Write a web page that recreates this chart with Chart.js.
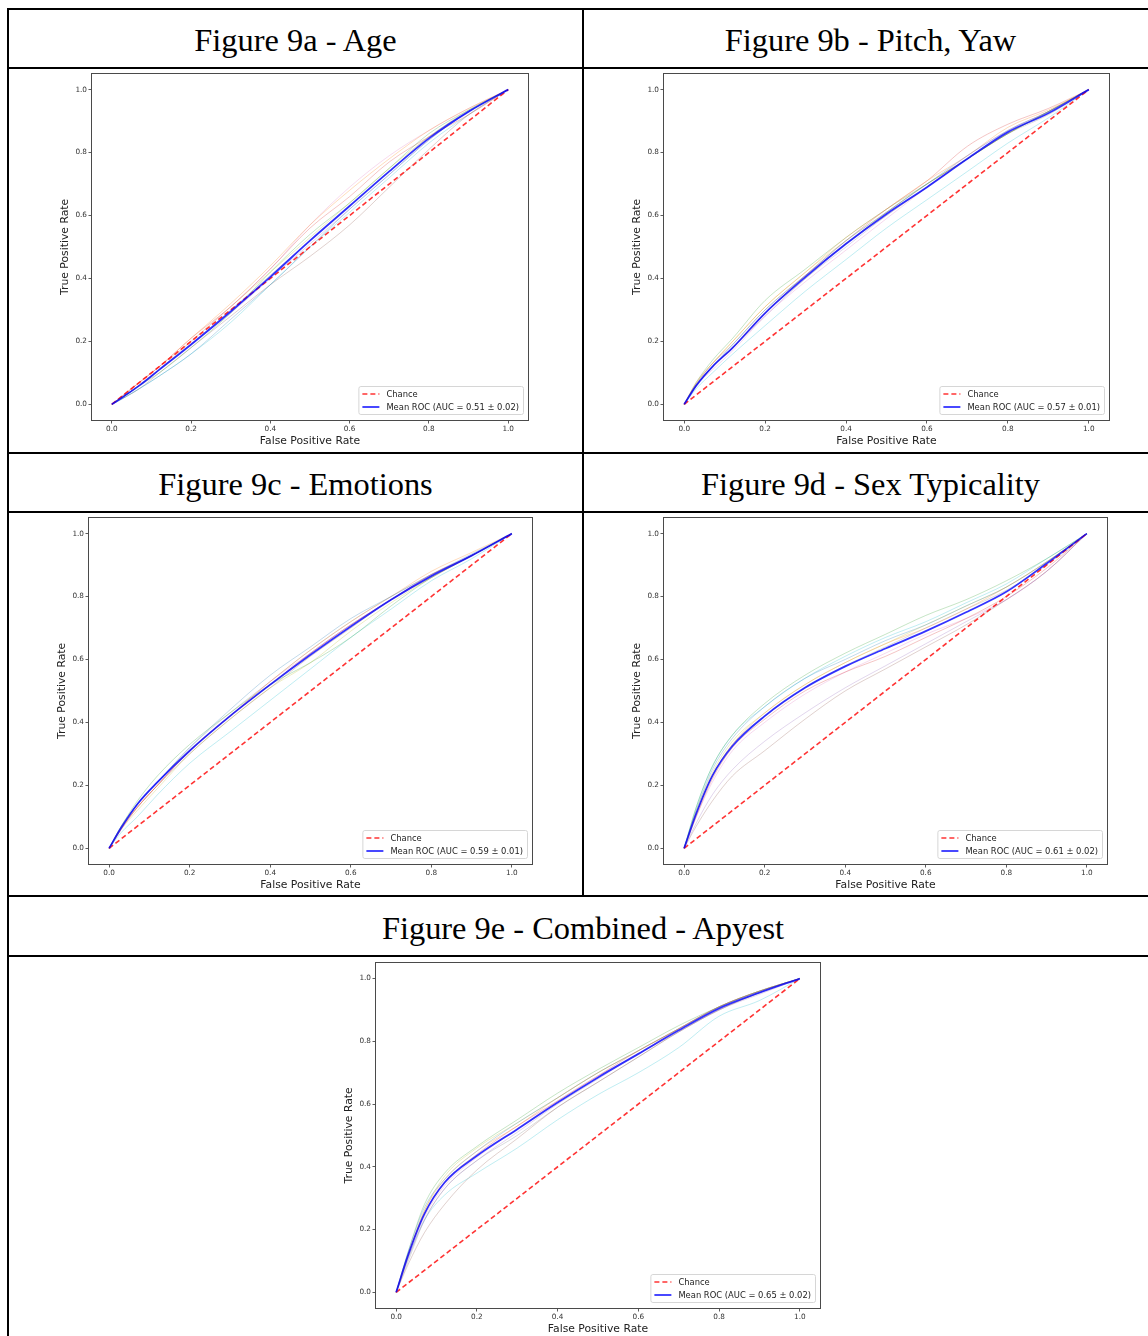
<!DOCTYPE html>
<html>
<head>
<meta charset="utf-8">
<script src="https://cdn.jsdelivr.net/npm/chart.js@4.4.1/dist/chart.umd.min.js"></script>
<style>
body {margin:0; background:#fff; width:1148px; height:1336px; overflow:hidden; position:relative;}
.hl {position:absolute; background:#000; height:2px;}
.vl {position:absolute; background:#000; width:2px;}
.ttl {position:absolute; font-family:"Liberation Serif","Times New Roman",serif; font-size:32.4px; color:#000; text-align:center; white-space:nowrap;}
canvas {position:absolute;}
</style>
</head>
<body>
<!-- table rules -->
<div class="hl" style="left:7px;top:8px;width:1160px;"></div>
<div class="hl" style="left:7px;top:67px;width:1160px;"></div>
<div class="hl" style="left:7px;top:452px;width:1160px;"></div>
<div class="hl" style="left:7px;top:511px;width:1160px;"></div>
<div class="hl" style="left:7px;top:895px;width:1160px;"></div>
<div class="hl" style="left:7px;top:955px;width:1160px;"></div>
<div class="vl" style="left:7px;top:8px;height:1330px;"></div>
<div class="vl" style="left:582px;top:8px;height:889px;"></div>

<div class="ttl" id="t0" style="left:9px;width:573px;top:12px;height:57px;line-height:57px;"></div>
<div class="ttl" id="t1" style="left:584px;width:573px;top:12px;height:57px;line-height:57px;"></div>
<div class="ttl" id="t2" style="left:9px;width:573px;top:456px;height:57px;line-height:57px;"></div>
<div class="ttl" id="t3" style="left:584px;width:573px;top:456px;height:57px;line-height:57px;"></div>
<div class="ttl" id="t4" style="left:9px;width:1148px;top:899px;height:58px;line-height:58px;"></div>

<script>
// ---- data ----
var titles = ['Figure 9a - Age', 'Figure 9b - Pitch, Yaw', 'Figure 9c - Emotions', 'Figure 9d - Sex Typicality', 'Figure 9e - Combined - Apyest'];
var tickVals = [0, 0.2, 0.4, 0.6, 0.8, 1.0];
var fprGrid = [0, 0.03, 0.07, 0.12, 0.2, 0.3, 0.4, 0.5, 0.6, 0.7, 0.8, 0.9, 1];
var aucMean = [0.51, 0.57, 0.59, 0.61, 0.65];
var aucStd = [0.02, 0.01, 0.01, 0.02, 0.02];

var meanAge = [0, 0.025, 0.06, 0.11, 0.19, 0.295, 0.405, 0.52, 0.63, 0.74, 0.845, 0.93, 1];
var foldsAge = [
  [0, 0.02, 0.05, 0.09, 0.16, 0.27, 0.38, 0.50, 0.62, 0.73, 0.84, 0.93, 1],
  [0, 0.03, 0.07, 0.12, 0.21, 0.32, 0.44, 0.57, 0.68, 0.78, 0.87, 0.94, 1],
  [0, 0.025, 0.06, 0.10, 0.18, 0.29, 0.42, 0.54, 0.64, 0.75, 0.86, 0.935, 1],
  [0, 0.03, 0.07, 0.12, 0.21, 0.31, 0.43, 0.56, 0.66, 0.77, 0.85, 0.92, 1],
  [0, 0.025, 0.06, 0.11, 0.19, 0.29, 0.40, 0.51, 0.62, 0.73, 0.84, 0.93, 1],
  [0, 0.02, 0.05, 0.10, 0.18, 0.28, 0.38, 0.47, 0.57, 0.69, 0.81, 0.92, 1],
  [0, 0.03, 0.07, 0.12, 0.20, 0.31, 0.43, 0.57, 0.69, 0.79, 0.87, 0.94, 1],
  [0, 0.025, 0.06, 0.11, 0.19, 0.30, 0.41, 0.52, 0.63, 0.74, 0.85, 0.93, 1],
  [0, 0.025, 0.06, 0.11, 0.20, 0.31, 0.42, 0.53, 0.64, 0.75, 0.85, 0.935, 1],
  [0, 0.02, 0.05, 0.09, 0.16, 0.26, 0.38, 0.50, 0.61, 0.72, 0.83, 0.92, 1]
];

var meanPose = [0, 0.06, 0.12, 0.18, 0.29, 0.405, 0.51, 0.605, 0.69, 0.78, 0.865, 0.925, 1];
var foldsPose = [
  [0, 0.06, 0.12, 0.19, 0.30, 0.41, 0.52, 0.61, 0.70, 0.79, 0.87, 0.93, 1],
  [0, 0.07, 0.13, 0.20, 0.31, 0.42, 0.53, 0.62, 0.71, 0.79, 0.88, 0.935, 1],
  [0, 0.07, 0.14, 0.21, 0.33, 0.43, 0.53, 0.62, 0.70, 0.78, 0.86, 0.93, 1],
  [0, 0.06, 0.12, 0.18, 0.29, 0.41, 0.52, 0.62, 0.71, 0.82, 0.89, 0.94, 1],
  [0, 0.06, 0.12, 0.18, 0.28, 0.40, 0.50, 0.60, 0.69, 0.78, 0.87, 0.93, 1],
  [0, 0.065, 0.13, 0.19, 0.30, 0.41, 0.51, 0.61, 0.70, 0.78, 0.86, 0.93, 1],
  [0, 0.06, 0.11, 0.17, 0.28, 0.39, 0.49, 0.59, 0.69, 0.79, 0.87, 0.93, 1],
  [0, 0.06, 0.12, 0.18, 0.29, 0.40, 0.51, 0.60, 0.69, 0.78, 0.86, 0.92, 1],
  [0, 0.065, 0.13, 0.20, 0.31, 0.42, 0.52, 0.61, 0.70, 0.78, 0.86, 0.93, 1],
  [0, 0.05, 0.10, 0.16, 0.25, 0.36, 0.46, 0.56, 0.65, 0.74, 0.83, 0.91, 1]
];

var meanEmo = [0, 0.065, 0.14, 0.21, 0.31, 0.42, 0.52, 0.615, 0.705, 0.79, 0.865, 0.93, 1];
var foldsEmo = [
  [0, 0.07, 0.14, 0.21, 0.32, 0.44, 0.55, 0.64, 0.73, 0.80, 0.87, 0.935, 1],
  [0, 0.065, 0.13, 0.20, 0.31, 0.42, 0.53, 0.63, 0.72, 0.80, 0.88, 0.94, 1],
  [0, 0.07, 0.15, 0.23, 0.33, 0.43, 0.52, 0.59, 0.67, 0.77, 0.86, 0.93, 1],
  [0, 0.06, 0.13, 0.20, 0.31, 0.42, 0.52, 0.62, 0.71, 0.79, 0.87, 0.93, 1],
  [0, 0.07, 0.14, 0.21, 0.31, 0.42, 0.52, 0.62, 0.71, 0.79, 0.865, 0.93, 1],
  [0, 0.065, 0.13, 0.20, 0.30, 0.41, 0.51, 0.61, 0.70, 0.79, 0.86, 0.93, 1],
  [0, 0.06, 0.13, 0.20, 0.31, 0.42, 0.53, 0.62, 0.71, 0.79, 0.87, 0.93, 1],
  [0, 0.065, 0.14, 0.21, 0.32, 0.43, 0.53, 0.63, 0.72, 0.80, 0.87, 0.93, 1],
  [0, 0.06, 0.12, 0.19, 0.30, 0.41, 0.51, 0.59, 0.69, 0.78, 0.86, 0.93, 1],
  [0, 0.05, 0.10, 0.17, 0.27, 0.37, 0.47, 0.57, 0.67, 0.76, 0.85, 0.92, 1]
];

var meanSex = [0, 0.11, 0.23, 0.325, 0.42, 0.51, 0.578, 0.635, 0.69, 0.75, 0.815, 0.905, 1];
var foldsSex = [
  [0, 0.12, 0.25, 0.35, 0.45, 0.54, 0.60, 0.66, 0.71, 0.77, 0.83, 0.91, 1],
  [0, 0.11, 0.23, 0.33, 0.43, 0.52, 0.59, 0.65, 0.70, 0.76, 0.83, 0.91, 1],
  [0, 0.13, 0.26, 0.36, 0.46, 0.55, 0.62, 0.68, 0.74, 0.79, 0.85, 0.92, 1],
  [0, 0.10, 0.22, 0.32, 0.41, 0.50, 0.56, 0.61, 0.67, 0.73, 0.80, 0.89, 1],
  [0, 0.08, 0.17, 0.25, 0.34, 0.43, 0.51, 0.58, 0.65, 0.72, 0.79, 0.88, 1],
  [0, 0.07, 0.15, 0.23, 0.31, 0.41, 0.50, 0.57, 0.64, 0.71, 0.79, 0.88, 1],
  [0, 0.10, 0.21, 0.31, 0.40, 0.49, 0.56, 0.62, 0.68, 0.73, 0.79, 0.88, 1],
  [0, 0.11, 0.23, 0.33, 0.42, 0.51, 0.58, 0.64, 0.70, 0.76, 0.82, 0.90, 1],
  [0, 0.12, 0.24, 0.34, 0.43, 0.52, 0.59, 0.65, 0.71, 0.77, 0.83, 0.91, 1],
  [0, 0.13, 0.26, 0.36, 0.45, 0.54, 0.61, 0.67, 0.72, 0.78, 0.84, 0.92, 1]
];

var meanAll = [0, 0.12, 0.25, 0.35, 0.435, 0.52, 0.605, 0.685, 0.76, 0.835, 0.905, 0.955, 1];
var foldsAll = [
  [0, 0.13, 0.27, 0.36, 0.45, 0.54, 0.62, 0.70, 0.77, 0.84, 0.91, 0.96, 1],
  [0, 0.12, 0.26, 0.36, 0.45, 0.53, 0.62, 0.70, 0.77, 0.84, 0.91, 0.96, 1],
  [0, 0.13, 0.28, 0.38, 0.465, 0.55, 0.635, 0.71, 0.78, 0.85, 0.91, 0.96, 1],
  [0, 0.12, 0.25, 0.35, 0.44, 0.53, 0.61, 0.69, 0.77, 0.84, 0.91, 0.96, 1],
  [0, 0.11, 0.23, 0.33, 0.42, 0.51, 0.60, 0.68, 0.76, 0.83, 0.90, 0.95, 1],
  [0, 0.09, 0.19, 0.28, 0.39, 0.49, 0.59, 0.67, 0.75, 0.83, 0.90, 0.955, 1],
  [0, 0.11, 0.24, 0.34, 0.43, 0.52, 0.61, 0.69, 0.76, 0.84, 0.91, 0.96, 1],
  [0, 0.10, 0.23, 0.33, 0.42, 0.50, 0.59, 0.67, 0.75, 0.83, 0.90, 0.955, 1],
  [0, 0.12, 0.26, 0.37, 0.46, 0.54, 0.62, 0.70, 0.77, 0.84, 0.91, 0.96, 1],
  [0, 0.11, 0.23, 0.31, 0.38, 0.46, 0.55, 0.63, 0.70, 0.78, 0.88, 0.93, 1]
];

// matplotlib tab10 cycle, alpha 0.3
var foldColors = ['rgba(31,119,180,0.3)', 'rgba(255,127,14,0.3)', 'rgba(44,160,44,0.3)', 'rgba(214,39,40,0.3)',
  'rgba(148,103,189,0.3)', 'rgba(140,86,75,0.3)', 'rgba(227,119,194,0.3)', 'rgba(127,127,127,0.3)',
  'rgba(188,189,34,0.3)', 'rgba(23,190,207,0.3)'];

// frame (axes box) of each panel on the page: left, top, width, height
var panels = [
  {mean: meanAge, folds: foldsAge, box: [92, 73, 436, 347]},
  {mean: meanPose, folds: foldsPose, box: [664, 73, 445, 347]},
  {mean: meanEmo, folds: foldsEmo, box: [89, 517, 443, 347]},
  {mean: meanSex, folds: foldsSex, box: [664, 517, 443, 347]},
  {mean: meanAll, folds: foldsAll, box: [376, 962, 444, 346]}
];

var FONT = "'DejaVu Sans', sans-serif";

function pts(ys) {
  var out = [];
  for (var i = 0; i < fprGrid.length; i++) out.push({x: fprGrid[i], y: ys[i]});
  return out;
}

// axes frame + matplotlib style legend in the lower right
var frameLegend = {
  id: 'frameLegend',
  afterDatasetsDraw: function(chart) {
    var a = chart.chartArea, ctx = chart.ctx;
    var items = chart.data.datasets.filter(function(d) { return d.legendRank; })
      .sort(function(p, q) { return p.legendRank - q.legendRank; });
    ctx.save();
    ctx.font = '8.4px ' + FONT;
    var tw = 0;
    items.forEach(function(d) { tw = Math.max(tw, ctx.measureText(d.label).width); });
    var w = tw + 32, h = 28;
    var x0 = a.right - 5 - w, y0 = a.bottom - 6 - h;
    ctx.beginPath();
    ctx.roundRect(x0 + 0.5, y0 + 0.5, w, h, 2);
    ctx.fillStyle = 'rgba(255,255,255,0.8)';
    ctx.fill();
    ctx.strokeStyle = '#d6d6d6';
    ctx.lineWidth = 1;
    ctx.stroke();
    items.forEach(function(d, i) {
      var cy = y0 + 8 + i * 13;
      ctx.beginPath();
      ctx.setLineDash(d.borderDash || []);
      ctx.strokeStyle = d.borderColor;
      ctx.lineWidth = d.borderWidth;
      ctx.moveTo(x0 + 4, cy);
      ctx.lineTo(x0 + 21, cy);
      ctx.stroke();
      ctx.setLineDash([]);
      ctx.fillStyle = '#222';
      ctx.textBaseline = 'middle';
      ctx.fillText(d.label, x0 + 28, cy + 0.5);
    });
    ctx.strokeStyle = '#4a4a4a';
    ctx.lineWidth = 1;
    ctx.strokeRect(Math.round(a.left) - 0.5, Math.round(a.top) - 0.5, Math.round(a.right - a.left) + 1, Math.round(a.bottom - a.top) + 1);
    ctx.restore();
  }
};

function axisOpts(horizontal, title) {
  return {
    type: 'linear', min: -0.05, max: 1.05,
    afterBuildTicks: function(s) { s.ticks = tickVals.map(function(v) { return {value: v}; }); },
    afterFit: function(s) { if (horizontal) s.height = 30; else s.width = 60; },
    ticks: {
      callback: function(v) { return v.toFixed(1); },
      font: {family: FONT, size: 7.3}, color: '#333', padding: 1.5,
      maxRotation: 0, autoSkip: false
    },
    grid: {drawOnChartArea: false, tickLength: 3.5, tickColor: '#333', tickWidth: 0.8},
    border: {display: false},
    title: {
      display: true, text: title, color: '#222',
      font: {family: FONT, size: 10.8},
      padding: horizontal ? {top: 0, bottom: 2.5} : {top: 26.5, bottom: 0}
    }
  };
}

panels.forEach(function(p, k) {
  document.getElementById('t' + k).textContent = titles[k];
  var b = p.box;
  var cv = document.createElement('canvas');
  cv.width = b[2] + 70;
  cv.height = b[3] + 35;
  cv.style.left = (b[0] - 60) + 'px';
  cv.style.top = (b[1] - 5) + 'px';
  document.body.appendChild(cv);

  var sets = [];
  sets.push({
    label: 'Mean ROC (AUC = ' + aucMean[k].toFixed(2) + ' \u00b1 ' + aucStd[k].toFixed(2) + ')',
    data: pts(p.mean), borderColor: 'rgba(0,0,255,0.8)', borderWidth: 1.8,
    cubicInterpolationMode: 'monotone', order: 0, legendRank: 2
  });
  sets.push({
    label: 'Chance', data: [{x: 0, y: 0}, {x: 1, y: 1}],
    borderColor: 'rgba(255,0,0,0.8)', borderWidth: 1.6, borderDash: [5, 3],
    order: 1, legendRank: 1
  });
  p.folds.forEach(function(f, i) {
    sets.push({
      label: 'ROC fold ' + i, data: pts(f), borderColor: foldColors[i], borderWidth: 0.9,
      cubicInterpolationMode: 'monotone', order: 2 + i
    });
  });

  new Chart(cv, {
    type: 'scatter',
    data: {datasets: sets},
    options: {
      responsive: false, animation: false, events: [],
      showLine: true,
      elements: {point: {radius: 0}},
      layout: {padding: {left: 0, top: 5, right: 10, bottom: 0}},
      plugins: {legend: {display: false}, tooltip: {enabled: false}},
      scales: {
        x: axisOpts(true, 'False Positive Rate'),
        y: axisOpts(false, 'True Positive Rate')
      }
    },
    plugins: [frameLegend]
  });
});
</script>
</body>
</html>
